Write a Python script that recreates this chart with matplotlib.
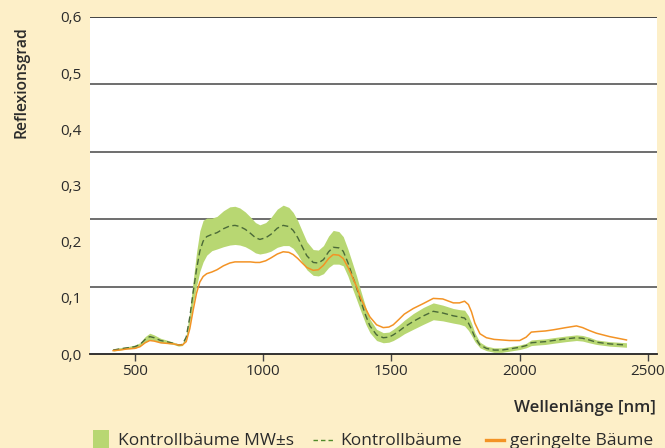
import matplotlib
matplotlib.use("Agg")
import matplotlib.pyplot as plt
from matplotlib.patches import Rectangle
from matplotlib.lines import Line2D

wavelength = [415, 440, 470, 500, 520, 540, 558, 575, 600, 623,
              650, 670, 685, 700, 714, 727, 740, 753, 766, 780,
              800, 820, 845, 870, 890, 909, 930, 950, 970, 987,
              1010, 1030, 1055, 1078, 1100, 1117, 1135, 1150, 1170, 1195,
              1215, 1235, 1255, 1273, 1295, 1312, 1330, 1345, 1364, 1380,
              1400, 1416, 1442, 1468, 1490, 1507, 1530, 1550, 1585, 1625,
              1663, 1700, 1741, 1765, 1785, 1800, 1812, 1825, 1845, 1870,
              1900, 1930, 1960, 2000, 2025, 2045, 2070, 2100, 2130, 2180,
              2221, 2245, 2270, 2299, 2350, 2416]

kontroll_mean = [0.007, 0.009, 0.011, 0.013, 0.017, 0.026, 0.031, 0.029, 0.024, 0.022,
                 0.019, 0.016, 0.017, 0.030, 0.066, 0.110, 0.150, 0.183, 0.201, 0.209,
                 0.213, 0.216, 0.223, 0.228, 0.229, 0.227, 0.222, 0.215, 0.207, 0.204,
                 0.207, 0.213, 0.224, 0.229, 0.227, 0.220, 0.207, 0.193, 0.175, 0.163,
                 0.162, 0.168, 0.182, 0.190, 0.189, 0.183, 0.163, 0.143, 0.118, 0.095,
                 0.068, 0.050, 0.034, 0.029, 0.030, 0.034, 0.041, 0.048, 0.058, 0.068,
                 0.076, 0.073, 0.068, 0.066, 0.064, 0.055, 0.044, 0.030, 0.016, 0.010,
                 0.007, 0.007, 0.009, 0.012, 0.015, 0.020, 0.021, 0.022, 0.024, 0.027,
                 0.029, 0.028, 0.025, 0.021, 0.018, 0.016]

kontroll_sd = [0.002, 0.002, 0.002, 0.003, 0.003, 0.005, 0.006, 0.005, 0.004, 0.003,
               0.002, 0.002, 0.002, 0.004, 0.010, 0.020, 0.030, 0.036, 0.037, 0.033,
               0.029, 0.029, 0.032, 0.034, 0.034, 0.033, 0.031, 0.029, 0.027, 0.026,
               0.027, 0.030, 0.034, 0.036, 0.034, 0.032, 0.030, 0.028, 0.025, 0.023,
               0.023, 0.025, 0.028, 0.030, 0.029, 0.026, 0.024, 0.023, 0.021, 0.018,
               0.015, 0.012, 0.010, 0.009, 0.009, 0.010, 0.011, 0.012, 0.014, 0.015,
               0.015, 0.014, 0.013, 0.013, 0.014, 0.013, 0.011, 0.008, 0.005, 0.004,
               0.004, 0.004, 0.004, 0.004, 0.004, 0.005, 0.005, 0.005, 0.005, 0.005,
               0.005, 0.005, 0.005, 0.004, 0.004, 0.004]

geringelt = [0.006, 0.007, 0.009, 0.010, 0.013, 0.020, 0.024, 0.023, 0.020, 0.019,
             0.018, 0.016, 0.016, 0.022, 0.045, 0.078, 0.108, 0.128, 0.138, 0.143,
             0.146, 0.150, 0.157, 0.162, 0.164, 0.164, 0.164, 0.164, 0.163, 0.163,
             0.166, 0.171, 0.178, 0.182, 0.181, 0.177, 0.170, 0.163, 0.154, 0.149,
             0.150, 0.158, 0.170, 0.177, 0.176, 0.170, 0.155, 0.140, 0.120, 0.100,
             0.080, 0.066, 0.052, 0.047, 0.048, 0.052, 0.062, 0.071, 0.081, 0.090,
             0.099, 0.098, 0.091, 0.091, 0.094, 0.088, 0.075, 0.055, 0.036, 0.029,
             0.026, 0.025, 0.024, 0.024, 0.030, 0.039, 0.040, 0.041, 0.043, 0.047,
             0.050, 0.047, 0.042, 0.037, 0.031, 0.025]

x_ticks = [500, 1000, 1500, 2000, 2500]
y_ticks = [0.0, 0.1, 0.2, 0.3, 0.4, 0.5, 0.6]
y_ticklabels = ["0,0", "0,1", "0,2", "0,3", "0,4", "0,5", "0,6"]
grid_levels = [0.12, 0.24, 0.36, 0.48, 0.6]
legend_labels = ["Kontrollbäume MW±s", "Kontrollbäume", "geringelte Bäume"]

BG = "#FDEFC8"
GREEN = "#B8D772"
ORANGE = "#F39325"
DASH = "#4B6A38"
TXT = "#2b2b2b"

plt.rcParams['font.family'] = ['Open Sans', 'DejaVu Sans']

W, H = 665, 448
fig = plt.figure(figsize=(6.65, 4.48), dpi=100, facecolor=BG)
ax = fig.add_axes([90/W, 1-354/H, 567/W, 337/H])
ax.set_facecolor("white")

upper = [m + s for m, s in zip(kontroll_mean, kontroll_sd)]
lower = [m - s for m, s in zip(kontroll_mean, kontroll_sd)]
ax.fill_between(wavelength, lower, upper, color=GREEN, linewidth=0, zorder=2)
ax.plot(wavelength, kontroll_mean, color=DASH, lw=1.0, ls=(0, (4.5, 2.5)), zorder=3,
        solid_joinstyle="round")
ax.plot(wavelength, geringelt, color=ORANGE, lw=1.1, zorder=3, solid_joinstyle="round")

for g in grid_levels:
    ax.axhline(g, color="#555555" if g < 0.6 else "#222222", lw=1.2, zorder=1)

ax.set_xlim(325, 2535)
ax.set_ylim(0, 0.6)
ax.set_xticks(x_ticks)
ax.set_xticklabels([str(t) for t in x_ticks])
ax.set_yticks(y_ticks)
ax.set_yticklabels(y_ticklabels)
for s in ["left", "right", "top"]:
    ax.spines[s].set_visible(False)
ax.spines["bottom"].set_color("#222222")
ax.spines["bottom"].set_linewidth(1.3)
ax.tick_params(axis="x", length=5, width=1, color="#444444", labelsize=11, labelcolor=TXT, pad=2)
ax.tick_params(axis="y", length=0, labelsize=11, labelcolor=TXT, pad=6)

fig.text(22/W, 1-82/H, "Reflexionsgrad", rotation=90, ha="center", va="center",
         fontsize=11.3, color=TXT, fontweight="semibold")
fig.text(656/W, 1-408/H, "Wellenlänge [nm]", ha="right", va="center",
         fontsize=12.2, color=TXT, fontweight="semibold")

# legend (drawn manually for exact placement)
fig.add_artist(Rectangle((92.7/W, 0), 16.6/W, (H-430)/H, transform=fig.transFigure,
                         facecolor=GREEN, edgecolor="none"))
fig.add_artist(Line2D([313/W, 335/W], [1-440/H]*2, transform=fig.transFigure,
                      color="#4E8A2A", lw=1.0, ls=(0, (3.2, 2.2))))
fig.add_artist(Line2D([486/W, 504/W], [1-440/H]*2, transform=fig.transFigure,
                      color=ORANGE, lw=2.4))
for xpos, lab in zip([118, 340, 510], legend_labels):
    fig.text(xpos/W, 1-445/H, lab, ha="left", va="baseline", fontsize=12.5, color=TXT)

fig.savefig("out.png", dpi=100, facecolor=BG)
